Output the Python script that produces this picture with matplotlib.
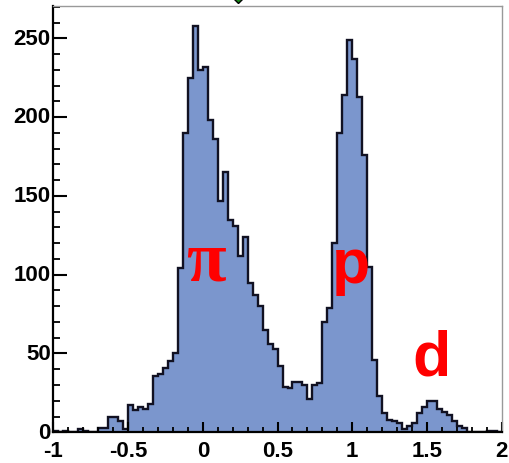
import numpy as np
import matplotlib.pyplot as plt
import matplotlib.transforms as mtransforms
from matplotlib.ticker import MultipleLocator

# histogram: 90 bins from -1 to 2
x_min, x_max, n_bins = -1.0, 2.0, 90
counts = [1, 0, 1, 0, 0, 2, 1, 0, 0, 3,
          3, 10, 10, 7, 2, 17, 14, 16, 15, 18,
          36, 37, 41, 45, 50, 104, 190, 225, 258, 230,
          232, 198, 186, 147, 165, 135, 131, 112, 124, 95,
          87, 80, 65, 56, 53, 42, 29, 28, 32, 32,
          30, 21, 30, 31, 70, 79, 120, 190, 214, 249,
          237, 213, 176, 105, 46, 23, 12, 8, 7, 6,
          2, 4, 6, 12, 16, 20, 20, 15, 13, 11,
          7, 4, 3, 0, 0, 0, 0, 1, 1, 0]

# particle labels
labels = ['\u03c0', 'p', 'd']
label_x = [0.02, 0.99, 1.53]
label_y = [108, 106, 47]

edges = np.linspace(x_min, x_max, n_bins + 1)

fig = plt.figure(figsize=(5.1, 4.64), dpi=100)
ax = fig.add_axes([0.1047, 0.0662, 0.8790, 0.9194])

ax.stairs(counts, edges, fill=True, color='#7b96cd', baseline=0)
ax.stairs(counts, edges, color='#111122', linewidth=1.7, baseline=0)

ax.set_xlim(x_min, x_max)
ax.set_ylim(0, 270.7)

# frame: ROOT style
for s in ['left', 'bottom']:
    ax.spines[s].set_color('black')
    ax.spines[s].set_linewidth(1.6)
for s in ['top', 'right']:
    ax.spines[s].set_color('#999999')
    ax.spines[s].set_linewidth(1.0)

ax.xaxis.set_major_locator(MultipleLocator(0.5))
ax.xaxis.set_minor_locator(MultipleLocator(0.1))
ax.yaxis.set_major_locator(MultipleLocator(50))
ax.yaxis.set_minor_locator(MultipleLocator(10))
ax.tick_params(axis='x', which='major', direction='in', length=7, width=1.5, pad=5.5)
ax.tick_params(axis='x', which='minor', direction='in', length=3.5, width=1.3)
ax.tick_params(axis='y', which='major', direction='in', length=10, width=1.5, pad=2)
ax.tick_params(axis='y', which='minor', direction='in', length=5, width=1.3)
ax.set_xticks([-1, -0.5, 0, 0.5, 1, 1.5, 2])
ax.set_xticklabels(['-1', '-0.5', '0', '0.5', '1', '1.5', '2'])
for lab in ax.get_xticklabels() + ax.get_yticklabels():
    lab.set_fontfamily('Liberation Sans')
    lab.set_fontweight('bold')
    lab.set_fontsize(16)

# nudge y labels up a little so "0" clears "-1"
shift = mtransforms.ScaledTranslation(0, 2 / 72, fig.dpi_scale_trans)
for lab in ax.get_yticklabels():
    lab.set_transform(lab.get_transform() + shift)

# particle names
ax.text(label_x[0], label_y[0], labels[0], color='red', fontsize=52,
        family='Liberation Serif', fontweight='bold', ha='center', va='center')
for i in [1, 2]:
    ax.text(label_x[i], label_y[i], labels[i], color='red', fontsize=45,
            family='Liberation Sans', fontweight='bold', ha='center', va='center')

# small green marker cut off at the top
ax.plot([0.236], [277], marker='D', markersize=7, color='#1a8a1a',
        markeredgecolor='black', clip_on=False)

fig.savefig('out.png', dpi=100)
